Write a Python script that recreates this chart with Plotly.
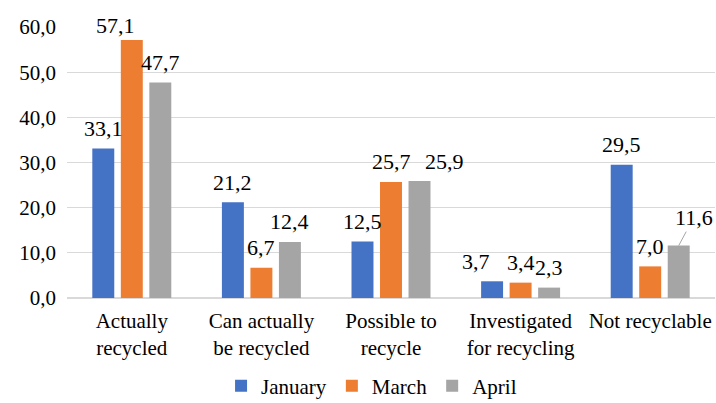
import plotly.graph_objects as go

categories = ["Actually<br>recycled", "Can actually<br>be recycled", "Possible to<br>recycle",
              "Investigated<br>for recycling", "Not recyclable"]
january = [33.1, 21.2, 12.5, 3.7, 29.5]
march = [57.1, 6.7, 25.7, 3.4, 7.0]
april = [47.7, 12.4, 25.9, 2.3, 11.6]

series = [("January", january, "#4472C4"), ("March", march, "#ED7D31"), ("April", april, "#A5A5A5")]

font = "'Times New Roman', 'Liberation Serif', 'DejaVu Serif', serif"
W, H = 716, 403
ML, MR, MT, MB = 67, 1, 27, 105
bargap, bargroupgap = 0.34, 0.23

# label placement nudges (pixels), style only
label_gap = 20
nudges = {(1, 0): (-16, -5), (2, 2): (25, 0), (0, 3): (-16, 0)}
leader = {(2, 4): (15, -28)}

fig = go.Figure()
for name, vals, col in series:
    fig.add_trace(go.Bar(name=name, x=categories, y=vals, marker_color=col,
                         marker_line_width=0, textposition="none", cliponaxis=False))

plot_w = W - ML - MR
slot = plot_w / len(categories) * (1 - bargap) / len(series)
annotations = []
for si, (name, vals, col) in enumerate(series):
    base_dx = (si - (len(series) - 1) / 2) * slot
    for ci, v in enumerate(vals):
        txt = f"{v:.1f}".replace(".", ",")
        if (si, ci) in leader:
            ax, ay = leader[(si, ci)]
            annotations.append(dict(x=categories[ci], y=v, xref="x", yref="y", text=txt,
                                    showarrow=True, arrowhead=0, arrowwidth=1, arrowcolor="#A5A5A5",
                                    ax=ax, ay=ay, xshift=base_dx, standoff=0,
                                    font=dict(family=font, size=22, color="#000000")))
        else:
            dx, dy = nudges.get((si, ci), (0, 0))
            annotations.append(dict(x=categories[ci], y=v, xref="x", yref="y", text=txt,
                                    showarrow=False, xanchor="center", yanchor="middle",
                                    xshift=base_dx + dx, yshift=label_gap + dy,
                                    font=dict(family=font, size=22, color="#000000")))

fig.update_layout(
    width=W, height=H,
    margin=dict(l=ML, r=MR, t=MT, b=MB, autoexpand=False),
    barmode="group", bargap=bargap, bargroupgap=bargroupgap,
    separators=", ",
    plot_bgcolor="white", paper_bgcolor="white",
    font=dict(family=font, size=21, color="#000000"),
    annotations=annotations,
    legend=dict(orientation="h", x=0.47, xanchor="center",
                y=-0.325, yanchor="middle", font=dict(family=font, size=21),
                itemwidth=30, traceorder="normal"),
)
fig.update_yaxes(range=[0, 60], dtick=10, tickformat=".1f", showgrid=True, gridcolor="#d9d9d9",
                 zeroline=True, zerolinecolor="#d9d9d9", zerolinewidth=1.5, ticks="",
                 tickfont=dict(family=font, size=21), showline=False, automargin=False,
                 ticklabelstandoff=10)
fig.update_xaxes(tickfont=dict(family=font, size=21), showline=False, ticks="", automargin=False,
                 ticklabelstandoff=8)

fig.write_html("out.html", config={"displayModeBar": False},
               post_script="document.body.style.margin='0';document.body.style.padding='0';")
